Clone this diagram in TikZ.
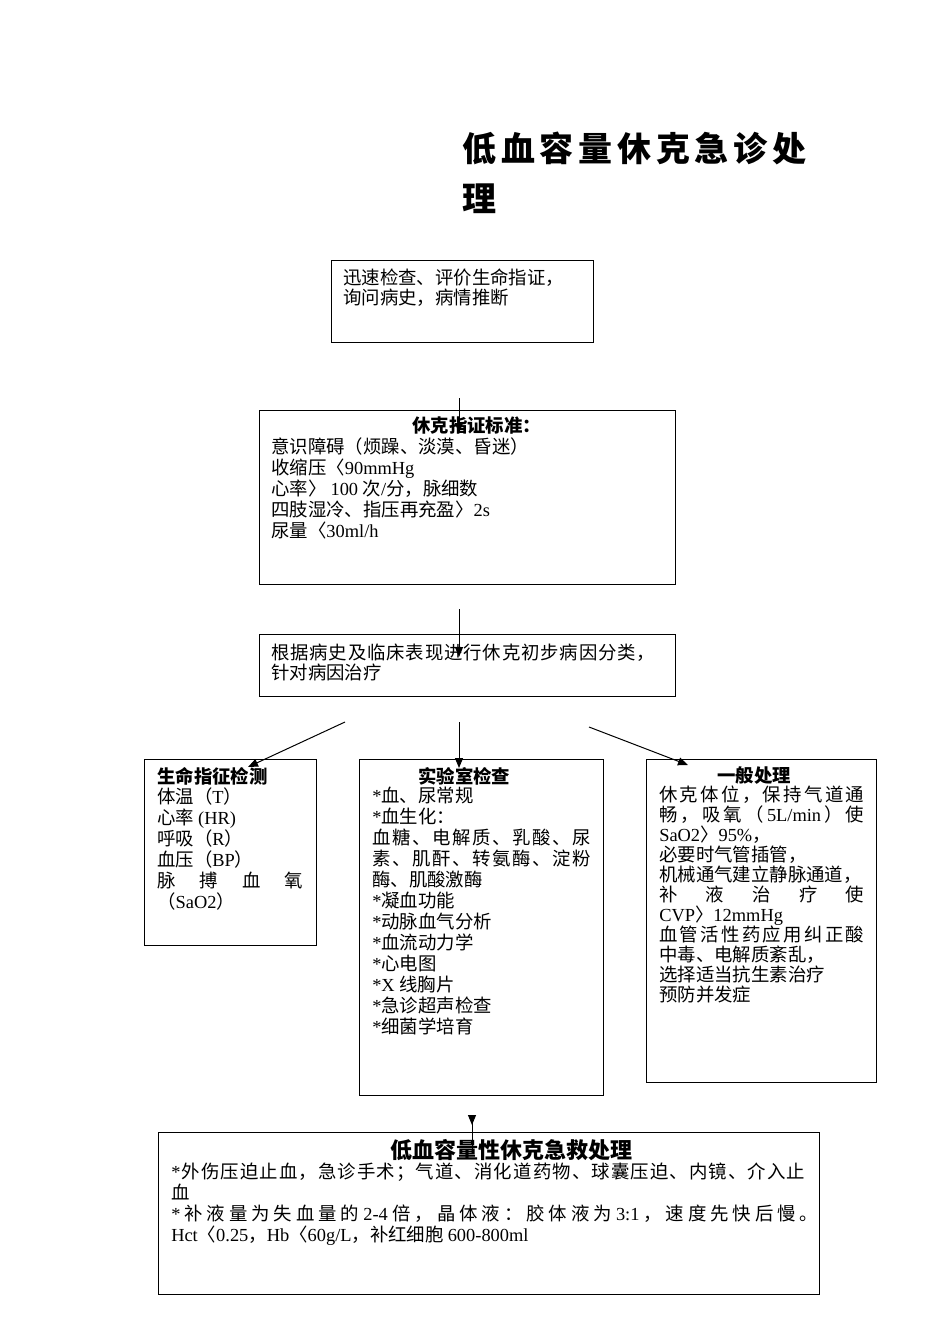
\documentclass[tikz,border=0pt]{standalone}
\usepackage{fontspec}
\setmainfont{Liberation Serif}
\newfontfamily\cjk{Noto Sans CJK SC}
\usetikzlibrary{arrows.meta,fit}
\newdimen\px \px=0.75pt
\newif\ifjust
\newcommand\jglue{\ifjust\hskip0pt plus 1fil\relax\fi}
\XeTeXinterchartokenstate=1
\newXeTeXintercharclass\cjkcls
\newcount\cc
\newcommand\setcls[2]{\cc=#1\relax\loop\XeTeXcharclass\cc=\cjkcls\relax\ifnum\cc<#2\relax\advance\cc by 1\repeat}
\setcls{"3000}{"303F}
\setcls{"4E00}{"9FFF}
\setcls{"FF00}{"FFEF}
\newcommand\cjktoks[1]{%
  \XeTeXinterchartoks 0 #1 = {\jglue\cjk}%
  \XeTeXinterchartoks 4095 #1 = {\cjk}%
  \XeTeXinterchartoks #1 0 = {\jglue\rmfamily}%
  \XeTeXinterchartoks #1 \cjkcls = {\jglue}%
  \XeTeXinterchartoks #1 1 = {\jglue}%
  \XeTeXinterchartoks #1 2 = {\jglue}%
  \XeTeXinterchartoks #1 3 = {\jglue}%
}
\cjktoks{\cjkcls}\cjktoks{1}\cjktoks{2}\cjktoks{3}
\XeTeXinterchartoks 4095 0 = {\rmfamily}
\newcommand\jl[2]{\makebox[#1\px][s]{\justtrue #2}}
\newcommand\body{\fontsize{13.8pt}{15.75pt}\selectfont}
\newcommand\bodyn{\fontsize{13.8pt}{15pt}\selectfont}
\newcommand\hdfont{\fontsize{13.8pt}{15.75pt}\selectfont\bfseries}
\newcommand\hbfont{\fontsize{16.5pt}{20pt}\selectfont\bfseries}
\newcommand\ttlfont{\fontsize{25.5pt}{30pt}\selectfont\bfseries}
\tikzset{
  box/.style={draw, line width=0.75pt, inner sep=0pt},
  txt/.style={anchor=north west, inner sep=0pt, align=left},
  hd/.style={anchor=west, inner sep=0pt, font=\hdfont},
  con/.style={line width=0.75pt, -{Triangle[length=7.5pt,width=6pt]}}
}
\begin{document}
\begin{tikzpicture}[x=0.75pt,y=-0.75pt]
\useasboundingbox (0,0) rectangle (950,1344);
% title
\node[anchor=west, inner sep=0pt, font=\ttlfont] (ttl1) at (462,148) {\jl{344}{低血容量休克急诊处}};
\node[anchor=west, inner sep=0pt, font=\ttlfont] (ttl2) at (462,199) {理};
% boxes
\node[box, fit={(331,261) (593,342)}] (b1) {};
\node[box, fit={(259,410) (675,584)}] (b2) {};
\node[box, fit={(259,634) (675,696)}] (b3) {};
\node[box, fit={(144,759) (316,945)}] (bL) {};
\node[box, fit={(359,759) (603,1095)}] (bM) {};
\node[box, fit={(646,759) (876,1082)}] (bR) {};
\node[box, fit={(158,1132) (819,1294)}] (bB) {};
% texts
\node[txt, font=\bodyn] (t1) at (343,269) {迅速检查、评价生命指证，\\询问病史，病情推断};
\node[hd] (h2) at (412,426) {休克指证标准：};
\node[txt, font=\body] (t2) at (271,437) {意识障碍（烦躁、淡漠、昏迷）\\收缩压〈90mmHg\\心率〉 100 次/分，脉细数\\四肢湿冷、指压再充盈〉2s\\尿量〈30ml/h};
\node[txt, font=\bodyn] (t3) at (271,644) {\jl{384}{根据病史及临床表现进行休克初步病因分类，}\\针对病因治疗};
\node[hd] (hL) at (157,776) {生命指征检测};
\node[txt, font=\body] (tL) at (157,787) {体温（T）\\心率 (HR)\\呼吸（R）\\血压（BP）\\\jl{146}{脉搏血氧}\\（SaO2）};
\node[hd] (hM) at (418,776) {实验室检查};
\node[txt, font=\body] (tM) at (372,787) {*血、尿常规\\*血生化：\\\jl{219}{血糖、电解质、乳酸、尿}\\\jl{219}{素、肌酐、转氨酶、淀粉}\\酶、肌酸激酶\\*凝血功能\\*动脉血气分析\\*血流动力学\\*心电图\\*X 线胸片\\*急诊超声检查\\*细菌学培育};
\node[hd] (hR) at (717,776) {一般处理};
\node[txt, font=\bodyn] (tR) at (659,786) {\jl{205}{休克体位，保持气道通}\\\jl{205}{畅，吸氧（5L/min）使}\\SaO2〉95\%，\\必要时气管插管，\\机械通气建立静脉通道，\\\jl{205}{补液治疗使}\\CVP〉12mmHg\\\jl{205}{血管活性药应用纠正酸}\\中毒、电解质紊乱，\\选择适当抗生素治疗\\预防并发症};
\node[anchor=west, inner sep=0pt, font=\hbfont] (hB) at (390,1150) {低血容量性休克急救处理};
\node[txt, font=\body] (tB) at (171,1163) {\jl{634}{*外伤压迫止血，急诊手术；气道、消化道药物、球囊压迫、内镜、介入止}\\血\\\jl{647}{*补液量为失血量的 2-4 倍，晶体液：胶体液为 3:1，速度先快后慢。}\\Hct〈0.25，Hb〈60g/L，补红细胞 600-800ml};
% connector coordinates
\coordinate (a1s) at (459,398); \coordinate (a1e) at (459,433);
\coordinate (a2s) at (459,609); \coordinate (a2e) at (459,657);
\coordinate (aLs) at (345,722); \coordinate (aLe) at (248,767);
\coordinate (aMs) at (459,722); \coordinate (aMe) at (459,768);
\coordinate (aRs) at (589,727); \coordinate (aRe) at (688,765);
\coordinate (aBs) at (472,1116); \coordinate (aBe) at (472,1125); \coordinate (aBb) at (472,1153);
\draw[con] (a1s) -- (a1e);
\draw[con] (a2s) -- (a2e);
\draw[con] (aLs) -- (aLe);
\draw[con] (aMs) -- (aMe);
\draw[con] (aRs) -- (aRe);
\draw[con] (aBs) -- (aBe);
\draw[line width=0.75pt] (aBs) -- (aBb);
\end{tikzpicture}
\end{document}
